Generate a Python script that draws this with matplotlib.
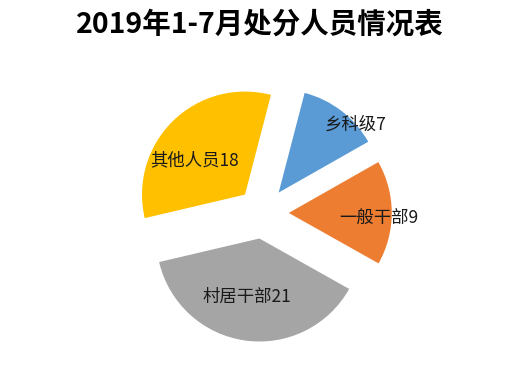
import numpy as np
import matplotlib
matplotlib.use("Agg")
import matplotlib.pyplot as plt

plt.rcParams["font.family"] = ["Noto Sans CJK SC", "DejaVu Sans"]

# data
categories = ["乡科级", "一般干部", "村居干部", "其他人员"]
counts = [7, 9, 21, 18]
colors = ["#5B9BD5", "#ED7D31", "#A5A5A5", "#FFC000"]

# label placement (relative to each wedge): radius fraction, angle shift from mid angle (deg)
label_r = [1.0, 0.88, 0.58, 0.59]
label_shift = [-11, -3, -4, 11]

fig = plt.figure(figsize=(5.3, 3.72), dpi=100)
ax = fig.add_axes([98.2 / 530, 4.5 / 372, 329.6 / 530, 309 / 372])

wedges, _ = ax.pie(counts, colors=colors, startangle=75.4, counterclock=False,
                   explode=[0.25] * len(counts), radius=1.0,
                   wedgeprops=dict(linewidth=0))
ax.set_xlim(-1.6, 1.6)
ax.set_ylim(-1.5, 1.5)
ax.set_aspect("equal")
ax.axis("off")

for w, name, n, r, s in zip(wedges, categories, counts, label_r, label_shift):
    mid = np.deg2rad((w.theta1 + w.theta2) / 2 + s)
    cx, cy = w.center
    ax.text(cx + r * np.cos(mid), cy + r * np.sin(mid), f"{name}{n}",
            ha="center", va="center", fontsize=12.5, color="#1a1a1a")

fig.text(260 / 530, 1 - 25 / 372, "2019年1-7月处分人员情况表", ha="center", va="center",
         fontsize=20.5, fontweight="bold", color="black")

fig.savefig("out.png", dpi=100)
